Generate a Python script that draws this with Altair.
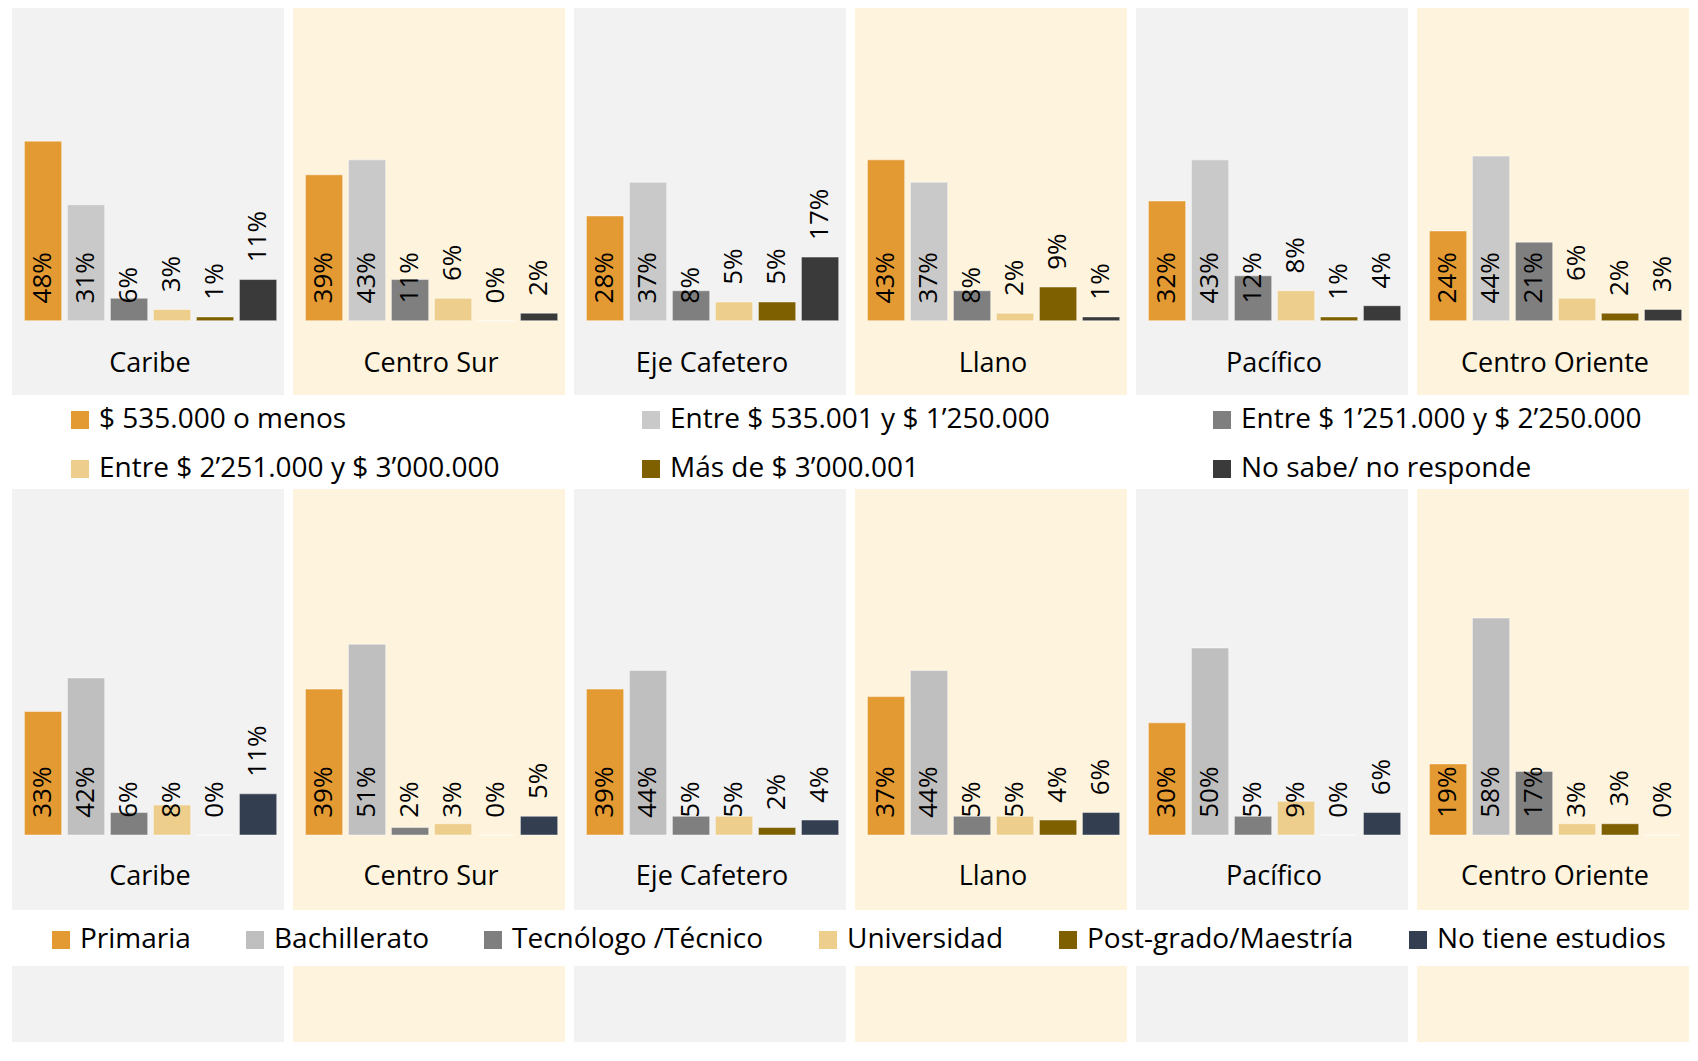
import altair as alt
import pandas as pd

regions = ["Caribe", "Centro Sur", "Eje Cafetero", "Llano", "Pacífico", "Centro Oriente"]
panel_fills = ["#F2F2F2", "#FEF4DE", "#F2F2F2", "#FEF4DE", "#F2F2F2", "#FEF4DE"]

# --- Row 1: ingresos ---
income_cats = [
    "$ 535.000 o menos",
    "Entre $ 535.001 y $ 1’250.000",
    "Entre $ 1’251.000 y $ 2’250.000",
    "Entre $ 2’251.000 y $ 3’000.000",
    "Más de $ 3’000.001",
    "No sabe/ no responde",
]
income_colors = ["#E49A33", "#C9C9C9", "#7F7F7F", "#EDCE8C", "#7F6000", "#3A3A3A"]
income_caribe = [48, 31, 6, 3, 1, 11]
income_centro_sur = [39, 43, 11, 6, 0, 2]
income_eje_cafetero = [28, 37, 8, 5, 5, 17]
income_llano = [43, 37, 8, 2, 9, 1]
income_pacifico = [32, 43, 12, 8, 1, 4]
income_centro_oriente = [24, 44, 21, 6, 2, 3]
income_rows = [income_caribe, income_centro_sur, income_eje_cafetero,
               income_llano, income_pacifico, income_centro_oriente]

# --- Row 2: nivel educativo ---
edu_cats = ["Primaria", "Bachillerato", "Tecnólogo /Técnico", "Universidad",
            "Post-grado/Maestría", "No tiene estudios"]
edu_colors = ["#E49A33", "#BFBFBF", "#7F7F7F", "#EDCE8C", "#7F6000", "#333F50"]
edu_caribe = [33, 42, 6, 8, 0, 11]
edu_centro_sur = [39, 51, 2, 3, 0, 5]
edu_eje_cafetero = [39, 44, 5, 5, 2, 4]
edu_llano = [37, 44, 5, 5, 4, 6]
edu_pacifico = [30, 50, 5, 9, 0, 6]
edu_centro_oriente = [19, 58, 17, 3, 3, 0]
edu_rows = [edu_caribe, edu_centro_sur, edu_eje_cafetero,
            edu_llano, edu_pacifico, edu_centro_oriente]

FONT = "Open Sans"
PANEL_W = 272


def make_legend(**kw):
    base = dict(
        orient="none", direction="horizontal", symbolType="square",
        symbolSize=324, symbolStrokeWidth=0, labelFont=FONT, labelFontSize=28,
        labelColor="black", labelLimit=2000, labelOffset=5, title=None, padding=0,
    )
    base.update(kw)
    return alt.Legend(**base)


def panel(region, cats, values, colors, fill, height, y_dom, outside_from,
          label_y, legend):
    df = pd.DataFrame({"cat": cats, "value": values, "idx": list(range(len(cats)))})
    base = alt.Chart(df)
    x = alt.X("cat:N", sort=cats, axis=None,
              scale=alt.Scale(paddingInner=0.133, paddingOuter=0.229, align=0.63))
    y_scale = alt.Scale(domain=y_dom, nice=False, zero=False)
    color = alt.Color("cat:N", sort=cats,
                      scale=alt.Scale(domain=cats, range=colors), legend=legend)
    bars = base.mark_bar(stroke="white", strokeOpacity=0.45, strokeWidth=1).encode(
        x=x,
        y=alt.Y("value:Q", scale=y_scale, axis=None),
        y2=alt.datum(0),
        color=color,
    )
    labels = base.transform_calculate(
        pos=f"(datum.idx >= {outside_from} ? datum.value : 0) + 4.6",
        txt="datum.value + '%'",
    ).mark_text(angle=270, align="left", baseline="middle", font=FONT,
                fontSize=26, color="black").encode(
        x=x,
        y=alt.Y("pos:Q", scale=y_scale, axis=None),
        text="txt:N",
    )
    title = alt.Chart(pd.DataFrame({"region": [region]})).mark_text(
        font=FONT, fontSize=27, color="black", align="center", baseline="alphabetic"
    ).encode(x=alt.value(PANEL_W / 2 + 2), y=alt.value(label_y), text="region:N")
    return alt.layer(bars, labels, title).properties(
        width=PANEL_W, height=height,
        view=alt.ViewBackground(fill=fill, strokeWidth=0),
    )


legend1 = make_legend(columns=3, gridAlign="all", columnPadding=137,
                      rowPadding=21, legendX=54, legendY=398)
legend2 = make_legend(columns=6, gridAlign="each", columnPadding=50,
                      legendX=35, legendY=437)

row1 = alt.hconcat(*[
    panel(r, income_cats, v, income_colors, f, 387, [-19.87, 83.6], 3, 364, legend1)
    for r, v, f in zip(regions, income_rows, panel_fills)
], spacing=9)

row2 = alt.hconcat(*[
    panel(r, edu_cats, v, edu_colors, f, 421, [-20.05, 92.5], 4, 396, legend2)
    for r, v, f in zip(regions, edu_rows, panel_fills)
], spacing=9)

row3 = alt.hconcat(*[
    alt.Chart(pd.DataFrame({"region": [r]})).mark_text(text="").encode(
        x=alt.value(0), y=alt.value(0)
    ).properties(width=PANEL_W, height=76,
                 view=alt.ViewBackground(fill=f, strokeWidth=0))
    for r, f in zip(regions, panel_fills)
], spacing=9)

chart = alt.vconcat(row1, row2, row3, spacing=6).resolve_scale(
    color="independent", x="independent", y="independent"
).properties(
    padding={"left": 4, "top": 0, "right": 0, "bottom": 0}
).configure_view(strokeWidth=0).configure(background="white")

chart.save("out.html", embed_options={"renderer": "svg", "actions": False})
